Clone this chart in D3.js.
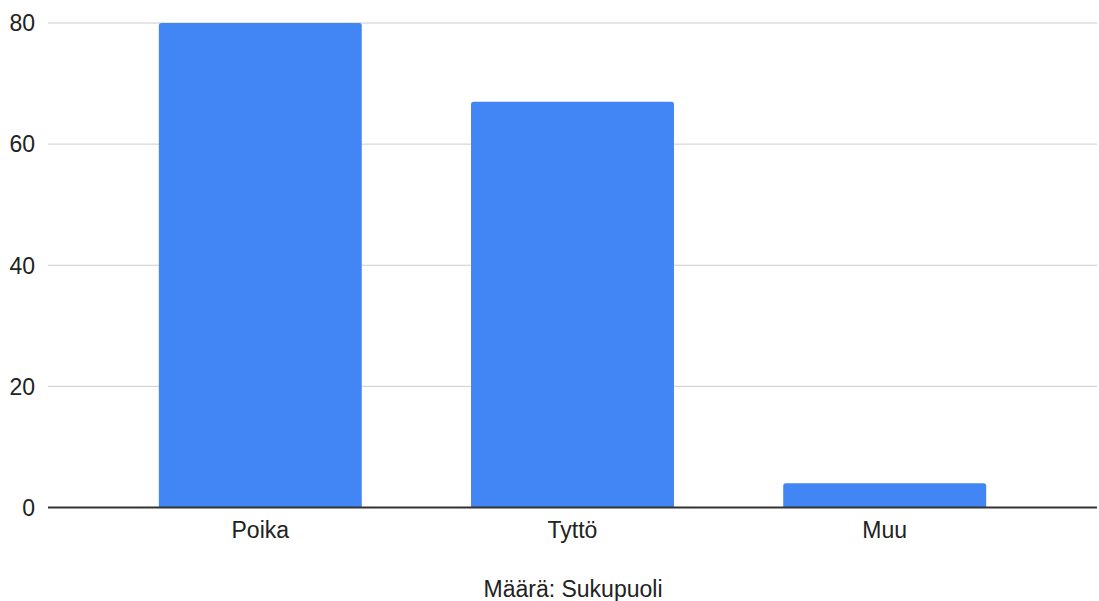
<!DOCTYPE html>
<html><head><meta charset="utf-8">
<script src="https://cdn.jsdelivr.net/npm/d3@7"></script>
<style>html,body{margin:0;padding:0;background:#fff;}svg{display:block;}</style>
</head><body>
<svg id="chart" width="1099" height="601"></svg>
<script>
const categories = ["Poika", "Tyttö", "Muu"];
const values = [80, 67, 4];
const yTicks = [0, 20, 40, 60, 80];
const title = "Määrä: Sukupuoli";

const W = 1099, H = 601;
const m = {left: 48, right: 2, top: 23, bottom: 93.5};
const svg = d3.select("#chart");
const font = "'Liberation Sans', Arial, sans-serif";

const x = d3.scaleBand().domain(categories).range([m.left, W - m.right]).paddingInner(0.35).paddingOuter(0.355);
const y = d3.scaleLinear().domain([0, 80]).range([H - m.bottom, m.top]);

// gridlines
svg.append("g").selectAll("line").data(yTicks.filter(d => d !== 0)).join("line")
  .attr("x1", m.left).attr("x2", W - m.right)
  .attr("y1", d => y(d)).attr("y2", d => y(d))
  .attr("stroke", "#cccccc").attr("stroke-width", 1);

// y tick labels
svg.append("g").selectAll("text").data(yTicks).join("text")
  .attr("x", 35).attr("y", d => y(d)).attr("dy", "0.36em")
  .attr("text-anchor", "end")
  .attr("font-family", font).attr("font-size", 23).attr("fill", "#222")
  .text(d => d);

// bars with rounded top corners
const r = 2.5;
svg.append("g").selectAll("path").data(categories).join("path")
  .attr("fill", "#4285F4")
  .attr("d", (c, i) => {
    const x0 = x(c), w = x.bandwidth(), y0 = y(values[i]), yb = y(0);
    return `M${x0},${yb}V${y0 + r}Q${x0},${y0} ${x0 + r},${y0}H${x0 + w - r}Q${x0 + w},${y0} ${x0 + w},${y0 + r}V${yb}Z`;
  });

// baseline
svg.append("line")
  .attr("x1", m.left).attr("x2", W - m.right)
  .attr("y1", y(0)).attr("y2", y(0))
  .attr("stroke", "#333").attr("stroke-width", 2);

// x labels
svg.append("g").selectAll("text").data(categories).join("text")
  .attr("x", c => x(c) + x.bandwidth() / 2).attr("y", 538)
  .attr("text-anchor", "middle")
  .attr("font-family", font).attr("font-size", 23).attr("fill", "#222")
  .text(c => c);

// axis title
svg.append("text")
  .attr("x", 573).attr("y", 597)
  .attr("text-anchor", "middle")
  .attr("font-family", font).attr("font-size", 23).attr("fill", "#222")
  .text(title);
</script>
</body></html>
